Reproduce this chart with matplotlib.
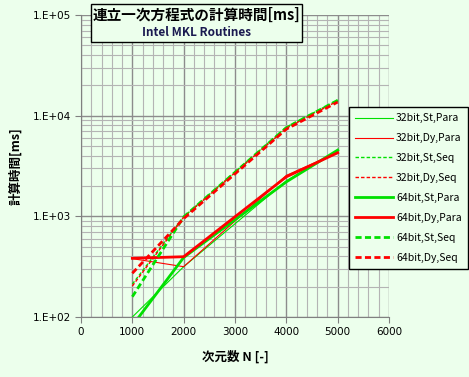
import numpy as np
import matplotlib.pyplot as plt
from matplotlib.patches import Rectangle
from matplotlib.ticker import MultipleLocator, LogLocator, FixedLocator

plt.rcParams['font.family'] = ['Noto Sans CJK JP', 'DejaVu Sans']

# ============================================================
# DATA
# ============================================================
n = [1000, 2000, 4000, 5000]

t32_st_para = [100, 316, 2250, 4500]
t32_dy_para = [380, 316, 2550, 4300]
t32_st_seq = [212, 990, 7700, 14300]
t32_dy_seq = [203, 980, 7500, 14000]
t64_st_para = [82, 390, 2200, 4550]
t64_dy_para = [383, 397, 2470, 4280]
t64_st_seq = [159, 985, 7600, 14200]
t64_dy_seq = [272, 950, 7350, 13650]

labels = ["32bit,St,Para", "32bit,Dy,Para", "32bit,St,Seq", "32bit,Dy,Seq",
          "64bit,St,Para", "64bit,Dy,Para", "64bit,St,Seq", "64bit,Dy,Seq"]

x_ticks = [0, 1000, 2000, 3000, 4000, 5000, 6000]
y_ticks = [1e2, 1e3, 1e4, 1e5]
y_ticklabels = ["1.E+02", "1.E+03", "1.E+04", "1.E+05"]

# ============================================================
# PLOT
# ============================================================
bg = "#ecffec"
green = "#00e000"
red = "#ff0000"

fig = plt.figure(figsize=(4.69, 3.77), dpi=100, facecolor=bg)
ax = fig.add_axes([81/469, 1 - 317/377, (389 - 81)/469, (317 - 15)/377])
ax.set_facecolor(bg)

series = [
    (t32_st_para, green, "-", 0.8),
    (t32_dy_para, red, "-", 0.8),
    (t32_st_seq, green, (0, (2.5, 1.5)), 1.0),
    (t32_dy_seq, red, (0, (2.5, 1.5)), 1.0),
    (t64_st_para, green, "-", 2.0),
    (t64_dy_para, red, "-", 2.0),
    (t64_st_seq, green, (0, (2.2, 1.2)), 2.0),
    (t64_dy_seq, red, (0, (2.2, 1.2)), 2.0),
]
for (vals, c, ls, lw), lab in zip(series, labels):
    ax.plot(n, vals, color=c, linestyle=ls, linewidth=lw, label=lab)

ax.set_yscale("log")
ax.set_xlim(0, 6000)
ax.set_ylim(1e2, 1e5)
ax.xaxis.set_major_locator(FixedLocator(x_ticks))
ax.xaxis.set_minor_locator(MultipleLocator(200))
ax.yaxis.set_major_locator(FixedLocator(y_ticks))
ax.yaxis.set_minor_locator(LogLocator(base=10, subs=np.arange(2, 10)))
ax.set_yticklabels(y_ticklabels)
ax.yaxis.set_minor_formatter(plt.NullFormatter())

ax.grid(which="major", color="#8c8c8c", linewidth=1.0)
ax.grid(which="minor", color="#b4b4b4", linewidth=0.8)
ax.set_axisbelow(True)

for s in ["top", "right"]:
    ax.spines[s].set_visible(False)
for s in ["left", "bottom"]:
    ax.spines[s].set_color("#808080")
ax.tick_params(which="major", direction="out", length=4, color="#808080",
               labelsize=7.5, pad=3)
ax.tick_params(which="minor", length=0)
for lab in ax.get_xticklabels() + ax.get_yticklabels():
    lab.set_family("DejaVu Sans")

ax.set_xlabel("次元数 N [-]", fontsize=9, fontweight="bold", labelpad=10)
ax.set_ylabel("計算時間[ms]", fontsize=9, fontweight="bold", labelpad=8)

# title box
fig.patches.append(Rectangle((91/469, 1 - 42/377), (302 - 91)/469, (42 - 4)/377,
                             transform=fig.transFigure, facecolor=bg,
                             edgecolor="black", linewidth=1, zorder=5))
fig.text(196/469, 1 - 15/377, "連立一次方程式の計算時間[ms]", ha="center", va="center",
         fontsize=10.5, fontweight="bold", zorder=6)
fig.text(196/469, 1 - 32/377, "Intel MKL Routines", ha="center", va="center",
         fontsize=8.5, fontweight="bold", color="#1a1a50", zorder=6)

leg = fig.legend(loc="upper left", bbox_to_anchor=(349/469, 1 - 107/377),
                 fontsize=7.5, frameon=True, fancybox=False, handlelength=3.6,
                 labelspacing=0.95, borderpad=0.6, handletextpad=0.3,
                 borderaxespad=0)
leg.get_frame().set_edgecolor("black")
leg.get_frame().set_facecolor(bg)
leg.get_frame().set_alpha(1)
leg.get_frame().set_linewidth(1)

plt.savefig("out.png", dpi=100, facecolor=bg)
